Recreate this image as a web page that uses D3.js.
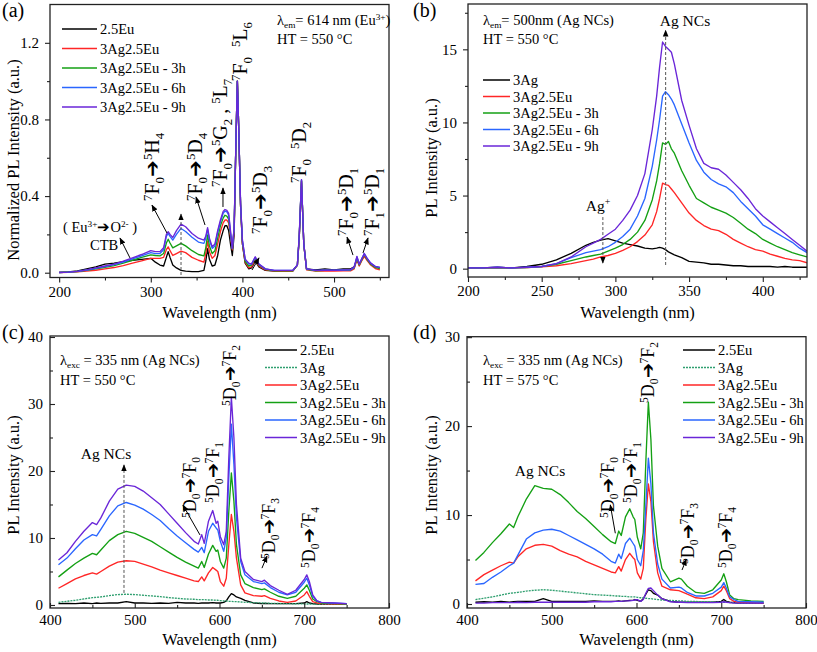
<!DOCTYPE html>
<html><head><meta charset="utf-8">
<script src="https://cdn.jsdelivr.net/npm/d3@7"></script>
<style>body{margin:0;background:#fff}text{white-space:pre;font-family:"Liberation Serif","Times New Roman",serif}</style>
</head><body>
<svg id="c" width="817" height="652" xmlns="http://www.w3.org/2000/svg"></svg>
<script>
// ---------------- DATA ----------------
// Panel (a): excitation spectra, lambda_em = 614 nm
const aWl = [200,210,220,230,240,250,260,270,280,290,
 300,305,310,314,317,319,321,324,328,333,
 338,345,352,358,360,362,364,367,370,373,
 376,379,381,383,385,387,389,391,393,394.5,
 396,398,400,403,407,410,414,418,425,435,
 445,455,460,462,464.5,467,470,480,490,500,
 510,518,522,525,527.5,530,533,536,540,545,550];
const aEu = [0.002,0.004,0.01,0.02,0.03,0.045,0.05,0.058,0.065,0.07,
 0.075,0.055,0.04,0.035,0.08,0.11,0.08,0.04,0.025,0.012,
 0.008,0.006,0.006,0.012,0.06,0.125,0.07,0.035,0.04,0.09,
 0.17,0.22,0.245,0.245,0.22,0.15,0.09,0.2,0.7,1.0,
 0.75,0.35,0.15,0.05,0.02,0.025,0.06,0.03,0.012,0.008,
 0.008,0.01,0.04,0.18,0.48,0.15,0.02,0.015,0.02,0.015,
 0.02,0.02,0.03,0.07,0.04,0.065,0.09,0.07,0.045,0.03,0.025];
const aAgEu = [0.001,0.002,0.004,0.008,0.013,0.02,0.027,0.037,0.05,0.062,
 0.075,0.075,0.075,0.08,0.12,0.135,0.115,0.09,0.1,0.113,
 0.105,0.08,0.065,0.055,0.1,0.165,0.11,0.075,0.09,0.15,
 0.215,0.26,0.275,0.275,0.26,0.19,0.12,0.22,0.7,1.0,
 0.75,0.35,0.15,0.055,0.025,0.03,0.068,0.035,0.015,0.008,
 0.007,0.008,0.04,0.18,0.475,0.15,0.015,0.008,0.008,0.008,
 0.01,0.01,0.02,0.07,0.035,0.06,0.085,0.065,0.04,0.022,0.015];
const aAgEu3h = [0.001,0.003,0.006,0.012,0.02,0.028,0.037,0.05,0.065,0.08,
 0.093,0.09,0.088,0.1,0.155,0.175,0.155,0.13,0.14,0.153,
 0.14,0.115,0.095,0.088,0.13,0.197,0.14,0.1,0.115,0.18,
 0.245,0.285,0.3,0.295,0.28,0.2,0.125,0.23,0.7,1.0,
 0.75,0.35,0.16,0.06,0.035,0.04,0.075,0.04,0.018,0.01,
 0.01,0.01,0.04,0.18,0.48,0.15,0.018,0.01,0.012,0.012,
 0.013,0.014,0.025,0.078,0.04,0.065,0.095,0.07,0.045,0.028,0.022];
const aAgEu6h = [0.001,0.003,0.007,0.014,0.023,0.032,0.042,0.055,0.072,0.088,
 0.105,0.1,0.1,0.12,0.19,0.205,0.19,0.17,0.2,0.231,
 0.215,0.185,0.16,0.153,0.18,0.226,0.17,0.127,0.14,0.21,
 0.265,0.31,0.322,0.318,0.3,0.21,0.127,0.235,0.7,1.0,
 0.75,0.36,0.17,0.07,0.045,0.045,0.08,0.045,0.02,0.012,
 0.012,0.012,0.04,0.19,0.485,0.15,0.02,0.012,0.013,0.013,
 0.014,0.015,0.028,0.083,0.045,0.07,0.1,0.075,0.05,0.032,0.028];
const aAgEu9h = [0.001,0.003,0.007,0.015,0.025,0.035,0.045,0.06,0.078,0.095,
 0.115,0.11,0.11,0.13,0.2,0.214,0.2,0.184,0.22,0.254,
 0.24,0.205,0.18,0.17,0.19,0.235,0.18,0.136,0.15,0.22,
 0.275,0.32,0.33,0.325,0.31,0.22,0.127,0.24,0.7,1.0,
 0.75,0.36,0.17,0.07,0.05,0.045,0.083,0.045,0.02,0.012,
 0.012,0.012,0.04,0.19,0.485,0.15,0.02,0.012,0.013,0.013,
 0.014,0.016,0.03,0.085,0.045,0.07,0.1,0.076,0.05,0.033,0.028];

// Panel (b): excitation spectra, lambda_em = 500 nm
const bWl = [200,210,220,230,240,250,260,270,280,285,290,295,300,305,310,315,320,325,328,330,
 332,334,336,338,340,345,350,355,360,365,370,375,380,385,390,395,400,405,410,415,420,425,430];
const bAg = [0.05,0.05,0.1,0.05,0.15,0.3,0.6,1.05,1.6,1.8,1.95,2.05,1.9,1.75,1.65,1.55,1.4,1.35,1.4,1.45,
 1.4,1.3,1.15,1.05,0.95,0.75,0.5,0.45,0.4,0.3,0.3,0.25,0.2,0.2,0.15,0.15,0.15,0.15,0.1,0.15,0.1,0.1,0.1];
const bAgEu = [0.05,0.05,0.05,0.05,0.07,0.12,0.2,0.35,0.55,0.65,0.8,0.9,1.05,1.25,1.5,1.85,2.3,3.0,3.9,4.8,
 5.85,5.75,5.7,5.45,5.2,4.5,3.8,3.3,2.95,2.7,2.6,2.35,2.0,1.75,1.5,1.3,1.2,1.0,0.85,0.7,0.6,0.55,0.4];
const bAgEu3h = [0.05,0.05,0.05,0.05,0.08,0.15,0.3,0.55,0.8,0.9,1.0,1.2,1.4,1.65,2.0,2.5,3.3,4.7,6.0,7.2,
 8.6,8.5,8.7,8.2,7.9,6.7,5.7,4.8,4.5,4.2,4.0,3.8,3.5,3.1,2.7,2.4,2.0,1.75,1.5,1.3,1.1,0.95,0.8];
const bAgEu6h = [0.05,0.05,0.1,0.05,0.1,0.15,0.35,0.75,1.1,1.2,1.3,1.5,1.8,2.2,2.7,3.6,4.8,7.0,8.8,10.2,
 11.8,12.1,11.9,11.6,11.2,9.9,8.6,7.4,6.6,6.1,5.8,5.6,5.2,4.6,4.1,3.6,3.0,2.7,2.4,2.1,1.8,1.4,1.1];
const bAgEu9h = [0.05,0.05,0.1,0.05,0.1,0.15,0.35,0.8,1.5,1.75,2.0,2.35,2.7,3.3,4.0,5.0,6.5,9.5,11.8,13.8,
 15.5,15.2,15.0,14.8,14.0,11.5,9.8,8.2,7.2,6.9,6.8,6.4,5.9,5.4,4.8,4.1,3.6,3.2,2.8,2.4,2.0,1.6,1.2];

// Panel (c): emission, lambda_exc = 335 nm, HT 550 C
const cWl = [410,420,430,440,450,455,460,470,480,490,500,510,520,530,540,550,560,570,575,579,
 582,587,592,596,598,601,605,608,611,614,617,620,625,630,640,650,653,660,670,680,
 690,700,703,706,710,715,720,735,750];
const cEu = [0.2,0.25,0.2,0.3,0.2,0.3,0.25,0.3,0.3,0.5,0.3,0.3,0.25,0.3,0.25,0.4,0.3,0.3,0.25,0.3,
 0.3,0.3,0.35,0.3,0.3,0.3,0.4,0.6,1.2,1.7,1.5,1.2,1.0,0.7,0.3,0.2,0.25,0.2,0.2,0.2,
 0.2,0.3,0.5,0.3,0.2,0.15,0.1,0.1,0.1];
const cAg = [0.4,0.55,0.7,0.9,1.1,1.15,1.2,1.4,1.55,1.6,1.55,1.45,1.35,1.25,1.1,1.0,0.9,0.85,0.8,0.8,
 0.8,0.75,0.75,0.7,0.7,0.65,0.6,0.6,0.55,0.55,0.5,0.5,0.45,0.4,0.35,0.3,0.3,0.25,0.22,0.2,
 0.18,0.15,0.15,0.15,0.12,0.12,0.1,0.1,0.1];
const cAgEu = [2.5,3.2,3.9,4.4,4.8,4.6,5.0,5.8,6.4,6.6,6.5,6.1,5.7,5.2,4.8,4.4,4.0,3.6,3.5,4.2,
 3.6,4.8,5.6,5.2,5.0,3.5,2.8,4.0,9.0,13.5,11.0,7.0,3.0,1.8,1.4,1.3,1.4,1.0,0.6,0.4,
 0.6,1.5,2.0,1.3,0.5,0.3,0.2,0.15,0.1];
const cAgEu3h = [4.2,5.2,6.2,7.0,7.7,7.5,8.2,9.6,10.5,11.0,10.7,10.1,9.5,8.7,7.9,7.1,6.4,5.8,5.5,6.5,
 5.6,7.6,8.9,8.0,8.2,6.5,5.5,7.0,14.0,19.7,15.5,9.0,4.5,3.2,2.6,2.3,2.4,1.9,1.3,1.0,
 1.3,2.5,3.0,2.2,0.9,0.5,0.3,0.2,0.15];
const cAgEu6h = [6.0,7.0,8.4,9.7,10.5,10.3,11.3,13.3,14.8,15.3,14.9,14.3,13.5,12.6,11.4,10.3,9.3,8.3,7.9,8.6,
 7.8,11.0,12.2,11.5,11.2,9.5,8.0,10.0,19.0,27.0,21.0,13.0,6.5,4.5,3.5,3.2,3.3,2.6,1.9,1.5,
 1.9,3.4,4.0,3.0,1.3,0.6,0.4,0.3,0.2];
const cAgEu9h = [6.7,7.8,9.5,11.0,12.3,12.0,13.0,15.5,17.3,17.9,17.7,17.0,16.0,15.0,13.6,12.2,10.8,9.5,9.1,10.5,
 9.2,12.5,14.1,12.2,12.5,10.2,9.0,11.0,22.0,31.0,25.0,15.0,7.0,5.0,3.8,3.5,3.7,2.9,2.2,1.6,
 2.2,3.8,4.5,3.5,1.5,0.6,0.4,0.3,0.2];

// Panel (d): emission, lambda_exc = 335 nm, HT 575 C
const dWl = [410,420,430,440,450,455,460,470,480,490,500,510,520,530,540,550,560,570,575,579,
 582,587,592,596,598,601,605,608,611,614,617,620,625,630,640,650,653,660,670,680,
 690,700,703,706,710,715,720,735,750];
const dEu = [0.2,0.25,0.2,0.3,0.2,0.25,0.3,0.3,0.3,0.6,0.3,0.3,0.3,0.3,0.3,0.35,0.3,0.3,0.3,0.35,
 0.3,0.35,0.4,0.4,0.5,0.4,0.3,0.6,1.1,1.6,1.5,1.2,1.0,0.6,0.3,0.2,0.2,0.2,0.2,0.2,
 0.2,0.3,0.5,0.3,0.2,0.15,0.1,0.1,0.1];
const dAg = [0.5,0.65,0.8,1.0,1.2,1.25,1.3,1.45,1.55,1.6,1.55,1.45,1.35,1.25,1.15,1.05,1.0,0.95,0.9,0.9,
 0.85,0.85,0.8,0.8,0.8,0.75,0.7,0.7,0.65,0.6,0.6,0.55,0.5,0.45,0.4,0.35,0.35,0.3,0.28,0.25,
 0.22,0.2,0.2,0.2,0.15,0.15,0.12,0.1,0.1];
const dAgEu = [2.6,3.3,3.8,4.3,4.7,4.6,5.3,6.2,6.6,6.7,6.5,6.0,5.6,5.3,4.8,4.4,4.0,3.6,3.5,4.2,
 3.7,5.0,5.7,5.2,5.0,3.5,2.8,4.0,9.5,13.5,11.5,7.0,3.5,2.0,1.6,1.5,1.4,1.1,0.7,0.6,
 0.8,1.5,2.0,1.5,0.6,0.3,0.2,0.15,0.1];
const dAgEu3h = [4.9,5.8,6.9,7.9,9.0,8.6,9.8,11.8,13.3,13.0,12.9,12.3,11.4,10.4,9.6,8.7,7.8,7.0,6.8,8.2,
 7.7,9.8,10.7,9.8,9.5,7.5,6.2,8.0,16.0,22.7,18.5,11.0,6.5,4.0,2.5,2.9,2.8,2.0,1.3,1.2,
 1.6,2.7,3.4,2.5,1.0,0.6,0.5,0.35,0.3];
const dAgEu6h = [2.2,2.3,3.0,3.6,4.3,4.6,5.5,7.3,8.0,8.3,8.4,8.2,7.7,7.2,6.7,6.2,5.6,4.8,4.6,5.6,
 5.1,6.8,7.4,6.8,6.5,5.0,4.3,6.0,11.0,16.4,13.5,8.0,4.5,2.8,1.8,1.9,1.8,1.3,0.9,0.9,
 1.2,1.9,2.4,1.8,0.8,0.5,0.3,0.25,0.2];
const dAgEu9h = [0.1,0.1,0.15,0.15,0.15,0.15,0.2,0.15,0.2,0.2,0.2,0.2,0.2,0.2,0.2,0.25,0.25,0.25,0.3,0.3,
 0.3,0.35,0.35,0.4,0.45,0.5,0.3,0.5,1.2,1.75,1.8,1.5,1.0,0.6,0.25,0.2,0.2,0.15,0.15,0.15,
 0.15,0.2,0.25,0.2,0.15,0.1,0.1,0.1,0.1];

// Legend labels
const legA = ["2.5Eu","3Ag2.5Eu","3Ag2.5Eu - 3h","3Ag2.5Eu - 6h","3Ag2.5Eu - 9h"];
const legB = ["3Ag","3Ag2.5Eu","3Ag2.5Eu - 3h","3Ag2.5Eu - 6h","3Ag2.5Eu - 9h"];
const legCD = ["2.5Eu","3Ag","3Ag2.5Eu","3Ag2.5Eu - 3h","3Ag2.5Eu - 6h","3Ag2.5Eu - 9h"];

// Tick values
const aXTicks = [200,300,400,500], aXMinor = [250,350,450,550];
const aYTicks = [0,0.4,0.8,1.2], aYMinor = [0.2,0.6,1.0];
const bXTicks = [200,250,300,350,400], bXMinor = [225,275,325,375,425];
const bYTicks = [0,5,10,15], bYMinor = [2.5,7.5,12.5,17.5];
const cdXTicks = [400,500,600,700,800], cdXMinor = [450,550,650,750];
const cYTicks = [0,10,20,30,40], cYMinor = [5,15,25,35];
const dYTicks = [0,10,20,30], dYMinor = [5,15,25];

// Colours
const K = "#000000", RED = "#ff2626", GRN = "#14a014", BLU = "#2a66ff", VIO = "#6a26d8", TEAL = "#2f9f6f";

// ---------------- DRAWING ----------------
const FONT = '"Liberation Serif","Times New Roman",serif';
const svg = d3.select('#c').style('font-family', FONT);
const defs = svg.append('defs');
defs.append('marker').attr('id','ah').attr('viewBox','0 0 10 10').attr('refX',9).attr('refY',5)
  .attr('markerWidth',7).attr('markerHeight',7).attr('markerUnits','userSpaceOnUse').attr('orient','auto')
  .append('path').attr('d','M0,1 L10,5 L0,9 Z').attr('fill','#000');

function rich(sel, str, fs){
  const segs = []; let i=0, buf='';
  while(i<str.length){
    const ch=str[i];
    if(ch==='^'||ch==='_'){
      if(buf){segs.push({t:buf,k:0});buf='';}
      let t;
      if(str[i+1]==='{'){const j=str.indexOf('}',i);t=str.slice(i+2,j);i=j+1;}
      else {t=str[i+1];i+=2;}
      segs.push({t:t,k:ch==='^'?1:-1});
    } else {buf+=ch;i++;}
  }
  if(buf) segs.push({t:buf,k:0});
  let cur=0;
  segs.forEach(s=>{
    const off = s.k===1 ? -0.36*fs : (s.k===-1 ? 0.24*fs : 0);
    sel.append('tspan').attr('dy',(off-cur).toFixed(2)).attr('font-size', s.k ? fs*0.64 : fs).text(s.t);
    cur=off;
  });
}

function drawPanel(p){
  const [L,T,R,B] = p.box;
  const x = d3.scaleLinear().domain(p.xDom).range([L,R]);
  const y = d3.scaleLinear().domain(p.yDom).range([B,T]);
  const g = svg.append('g');
  defs.append('clipPath').attr('id','clip'+p.id).append('rect')
    .attr('x',L).attr('y',T).attr('width',R-L).attr('height',B-T);
  const line = d3.line().x(d=>x(d[0])).y(d=>y(d[1]));
  const cg = g.append('g').attr('clip-path','url(#clip'+p.id+')');
  p.series.forEach(s=>{
    cg.append('path').attr('d', line(d3.zip(p.wl, s.v))).attr('fill','none')
      .attr('stroke',s.c).attr('stroke-width',1.35).attr('stroke-linejoin','round')
      .attr('stroke-dasharray', s.dash||null);
  });
  // frame
  g.append('rect').attr('x',L).attr('y',T).attr('width',R-L).attr('height',B-T)
    .attr('fill','none').attr('stroke','#222').attr('stroke-width',1.3);
  const tk = p.tickIn ? -1 : 1;
  function styleAxis(a){
    a.select('.domain').remove();
    a.selectAll('line').attr('stroke','#222').attr('stroke-width',1.1);
    a.selectAll('text').attr('font-size',15).attr('fill','#000');
  }
  g.append('g').attr('transform','translate(0,'+B+')')
    .call(d3.axisBottom(x).tickValues(p.xMinor).tickSize(3*tk).tickSizeOuter(0).tickFormat(''))
    .call(styleAxis);
  g.append('g').attr('transform','translate(0,'+B+')')
    .call(d3.axisBottom(x).tickValues(p.xTicks).tickSize(5*tk).tickSizeOuter(0).tickPadding(p.xPad).tickFormat(d3.format('d')))
    .call(styleAxis);
  g.append('g').attr('transform','translate('+L+',0)')
    .call(d3.axisLeft(y).tickValues(p.yMinor).tickSize(3*tk).tickSizeOuter(0).tickFormat(''))
    .call(styleAxis);
  g.append('g').attr('transform','translate('+L+',0)')
    .call(d3.axisLeft(y).tickValues(p.yTicks).tickSize(5*tk).tickSizeOuter(0).tickPadding(p.yPad).tickFormat(p.yFmt))
    .call(styleAxis);
  // axis titles
  g.append('text').attr('x',(L+R)/2).attr('y',p.xTitleY).attr('text-anchor','middle')
    .attr('font-size',16.5).text('Wavelength (nm)');
  g.append('text').attr('transform','translate('+p.yTitleX+','+p.yTitleY+') rotate(-90)')
    .attr('text-anchor','middle').attr('font-size',16.5).text(p.yTitle);
  // panel letter
  g.append('text').attr('x',p.letter[0]).attr('y',p.letter[1]).attr('font-size',20).text(p.letter[2]);
  // legend
  const lg = p.legend;
  p.series.forEach((s,i)=>{
    const yy = lg.y0 + i*lg.dy;
    g.append('line').attr('x1',lg.x1).attr('x2',lg.x2).attr('y1',yy).attr('y2',yy)
      .attr('stroke',s.c).attr('stroke-width',1.5).attr('stroke-dasharray', s.dash||null);
    g.append('text').attr('x',lg.tx).attr('y',yy+5).attr('font-size',14.5).text(lg.labels[i]);
  });
  // arrows (data coordinates)
  (p.arrows||[]).forEach(a=>{
    g.append('line').attr('x1',x(a[0])).attr('y1',y(a[1])).attr('x2',x(a[2])).attr('y2',y(a[3]))
      .attr('stroke', a[4] ? '#555' : '#000').attr('stroke-width',1)
      .attr('stroke-dasharray', a[4] ? '3,2' : null).attr('marker-end','url(#ah)');
  });
  // plain annotations
  (p.texts||[]).forEach(t=>{
    const el = g.append('text').attr('x',t.x).attr('y',t.y).attr('font-size',t.fs||14.5)
      .attr('text-anchor',t.anchor||'start');
    rich(el, t.t, t.fs||14.5);
  });
  // rotated transition labels
  (p.rot||[]).forEach(t=>{
    const el = g.append('text').attr('transform','translate('+t.x+','+t.y+') rotate(-90)')
      .attr('font-size',p.rotFs);
    rich(el, t.t, p.rotFs);
  });
}

drawPanel({
  id:'a', box:[50,4.5,389,277.5], xDom:[190,560], yDom:[-0.025,1.4],
  xTicks:aXTicks, xMinor:aXMinor, yTicks:aYTicks, yMinor:aYMinor, yFmt:d3.format('.1f'),
  tickIn:false, xPad:3.5, yPad:6, xTitleY:318, yTitleX:19, yTitleY:160,
  yTitle:'Normalized PL Intensity (a.u.)', letter:[2,17,'(a)'],
  wl:aWl,
  series:[{v:aEu,c:K},{v:aAgEu,c:RED},{v:aAgEu3h,c:GRN},{v:aAgEu6h,c:BLU},{v:aAgEu9h,c:VIO}],
  legend:{x1:62,x2:97,tx:100,y0:29,dy:19.5,labels:legA},
  arrows:[[317.7,0.207,301.3,0.353],[359.2,0.249,349.4,0.395],[378.8,0.343,378.8,0.442],
          [410.5,0.014,418.1,0.077],[520.7,0.092,514.2,0.186],[531.6,0.103,537.1,0.181],
          [277.3,0.077,266.4,0.181],[333,-0.012,333,0.306,1]],
  texts:[{x:277,y:25,t:'λ_{em}= 614 nm (Eu^{3+})'},{x:277,y:44,t:'HT = 550 °C'},
         {x:63,y:232,t:'( Eu^{3+}➔O^{2-} )'},{x:90,y:250,t:'CTB'}],
  rotFs:20,
  rot:[{x:159,y:201,t:'^7F_0➔^5H_4'},{x:202,y:201,t:'^7F_0➔^5D_4'},
       {x:227,y:187,t:'^7F_0➔^5G_2 , ^5L_7'},{x:247,y:81,t:'^7F_0\u2002^5L_6'},
       {x:267,y:234,t:'^7F_0➔^5D_3'},{x:306,y:183,t:'^7F_0\u2002^5D_2'},
       {x:353,y:236,t:'^7F_0➔^5D_1'},{x:379,y:236,t:'^7F_1➔^5D_1'}]
});

drawPanel({
  id:'b', box:[468,4,807,277], xDom:[200,430], yDom:[-0.57,18.1],
  xTicks:bXTicks, xMinor:bXMinor, yTicks:bYTicks, yMinor:bYMinor, yFmt:d3.format('d'),
  tickIn:false, xPad:3.5, yPad:6, xTitleY:318, yTitleX:437, yTitleY:158,
  yTitle:'PL Intensity (a.u.)', letter:[413,17,'(b)'],
  wl:bWl,
  series:[{v:bAg,c:K},{v:bAgEu,c:RED},{v:bAgEu3h,c:GRN},{v:bAgEu6h,c:BLU},{v:bAgEu9h,c:VIO}],
  legend:{x1:483,x2:510,tx:513,y0:80,dy:16.5,labels:legB},
  arrows:[[334.1,0.25,334.1,16.3,1],[291.5,3.53,291.5,0.39,1]],
  texts:[{x:483,y:25,t:'λ_{em}= 500nm (Ag NCs)'},{x:483,y:44,t:'HT = 550 °C'},
         {x:685,y:26,t:'Ag NCs',fs:15.5,anchor:'middle'},{x:598,y:211,t:'Ag^+',fs:15.5,anchor:'middle'}],
  rotFs:17, rot:[]
});

drawPanel({
  id:'c', box:[50,336,389,608], xDom:[400,800], yDom:[-0.45,40.15],
  xTicks:cdXTicks, xMinor:cdXMinor, yTicks:cYTicks, yMinor:cYMinor, yFmt:d3.format('d'),
  tickIn:true, xPad:6.5, yPad:7, xTitleY:645, yTitleX:19, yTitleY:475,
  yTitle:'PL Intensity (a.u.)', letter:[2,339,'(c)'],
  wl:cWl,
  series:[{v:cEu,c:K},{v:cAg,c:TEAL,dash:'2,1'},{v:cAgEu,c:RED},{v:cAgEu3h,c:GRN},{v:cAgEu6h,c:BLU},{v:cAgEu9h,c:VIO}],
  legend:{x1:265,x2:297,tx:300,y0:350,dy:17.5,labels:legCD},
  arrows:[[487.3,1.8,487.3,20.9,1],[577,10.45,556.9,14.9],[650.1,5.5,656,7.3]],
  texts:[{x:60,y:365,t:'λ_{exc} = 335 nm (Ag NCs)'},{x:60,y:385,t:'HT = 550 °C'},
         {x:106,y:459,t:'Ag NCs',fs:15.5,anchor:'middle'}],
  rotFs:18,
  rot:[{x:196,y:518,t:'^5D_0➔^7F_0'},{x:219,y:503,t:'^5D_0➔^7F_1'},{x:236,y:406,t:'^5D_0➔^7F_2'},
       {x:275,y:559,t:'^5D_0➔^7F_3'},{x:315,y:568,t:'^5D_0➔^7F_4'}]
});

drawPanel({
  id:'d', box:[467,336.7,806,608], xDom:[400,800], yDom:[-0.45,30.05],
  xTicks:cdXTicks, xMinor:cdXMinor, yTicks:dYTicks, yMinor:dYMinor, yFmt:d3.format('d'),
  tickIn:true, xPad:6.5, yPad:7, xTitleY:645, yTitleX:437, yTitleY:475,
  yTitle:'PL Intensity (a.u.)', letter:[413,339,'(d)'],
  wl:dWl,
  series:[{v:dEu,c:K},{v:dAg,c:TEAL,dash:'2,1'},{v:dAgEu,c:RED},{v:dAgEu3h,c:GRN},{v:dAgEu6h,c:BLU},{v:dAgEu9h,c:VIO}],
  legend:{x1:683,x2:715,tx:718,y0:350,dy:17.5,labels:legCD},
  arrows:[[575,7.95,569.1,11.14],[653.7,3.82,658.8,5.03]],
  texts:[{x:483,y:365,t:'λ_{exc} = 335 nm (Ag NCs)'},{x:483,y:385,t:'HT = 575 °C'},
         {x:540,y:476,t:'Ag NCs',fs:15.5,anchor:'middle'}],
  rotFs:18,
  rot:[{x:614,y:518,t:'^5D_0➔^7F_0'},{x:637,y:503,t:'^5D_0➔^7F_1'},{x:654,y:403,t:'^5D_0➔^7F_2'},
       {x:694,y:564,t:'^5D_0➔^7F_3'},{x:732,y:568,t:'^5D_0➔^7F_4'}]
});
</script>
</body></html>
